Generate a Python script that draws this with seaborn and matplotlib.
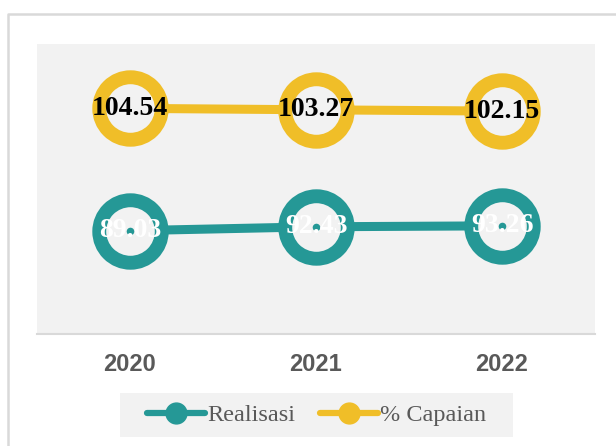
import matplotlib
matplotlib.use("Agg")
import matplotlib.pyplot as plt
from matplotlib.lines import Line2D
from matplotlib.patches import Rectangle
import pandas as pd
import seaborn as sns

sns.set_style("white")

years = ["2020", "2021", "2022"]
realisasi = [89.03, 92.43, 93.26]
capaian = [104.54, 103.27, 102.15]

teal = "#259896"
gold = "#F0BE28"
bg = "#F2F2F2"
grey_txt = "#595959"

df = pd.DataFrame({"Tahun": years, "Realisasi": realisasi, "% Capaian": capaian})

fig = plt.figure(figsize=(6.16, 4.46), dpi=100)
ax = fig.add_axes([37 / 616, 1 - 334 / 446, 558 / 616, 290 / 446])
ax.set_facecolor(bg)
ax2 = ax.twinx()
ax2.patch.set_visible(False)

ring = dict(marker="o", markersize=45, markeredgewidth=10, linewidth=6.5)
sns.lineplot(data=df, x="Tahun", y="Realisasi", ax=ax, color=teal,
             markerfacecolor=bg, markeredgecolor=teal, **ring)
sns.scatterplot(data=df, x="Tahun", y="Realisasi", ax=ax, color=teal, s=30,
                linewidth=0, zorder=5)
sns.lineplot(data=df, x="Tahun", y="% Capaian", ax=ax2, color=gold,
             markerfacecolor=bg, markeredgecolor=gold, **ring)

for i, v in enumerate(realisasi):
    ax.text(i, v, f"{v:.2f}", ha="center", va="center", color="white",
            fontsize=20, fontweight="bold", family="Liberation Serif", zorder=6)
for i, v in enumerate(capaian):
    ax2.text(i, v, f"{v:.2f}", ha="center", va="center", color="black",
             fontsize=20, fontweight="bold", family="Liberation Serif", zorder=6)

ax.set_xlim(-0.5, 2.5)
ax.set_ylim(0, 250)
ax2.set_ylim(-90, 160)
for a in (ax, ax2):
    a.set_xlabel("")
    a.set_ylabel("")
    a.set_yticks([])
    for s in ("top", "left", "right", "bottom"):
        a.spines[s].set_visible(False)
ax.spines["bottom"].set_visible(True)
ax.spines["bottom"].set_color("#D9D9D9")
ax.spines["bottom"].set_linewidth(1.5)
ax.tick_params(axis="x", length=0, pad=14)
for lab in ax.get_xticklabels():
    lab.set_fontfamily("Liberation Sans")
    lab.set_fontweight("bold")
    lab.set_fontsize(17)
    lab.set_color(grey_txt)

# legend box
fig.patches.append(Rectangle((120 / 616, 9 / 446), 393 / 616, 44 / 446,
                             transform=fig.transFigure, facecolor=bg,
                             edgecolor="none", zorder=0))
handles = [
    Line2D([], [], color=teal, lw=4.5, marker="o", markersize=15,
           solid_capstyle="round"),
    Line2D([], [], color=gold, lw=4.5, marker="o", markersize=15,
           solid_capstyle="round"),
]
fig.legend(handles, ["Realisasi", "% Capaian"], loc="center",
           bbox_to_anchor=(316.5 / 616, 31 / 446), ncol=2, frameon=False,
           handlelength=2.4, handletextpad=0.1, columnspacing=1.0,
           prop={"family": "Liberation Serif", "size": 17.5},
           labelcolor=grey_txt)

# outer border (left and top)
fig.add_artist(Line2D([8 / 616, 8 / 616, 1], [0, 1 - 14 / 446, 1 - 14 / 446],
                      transform=fig.transFigure, color="#D9D9D9", lw=1.8))

fig.savefig("out.png", dpi=100, facecolor="white")
